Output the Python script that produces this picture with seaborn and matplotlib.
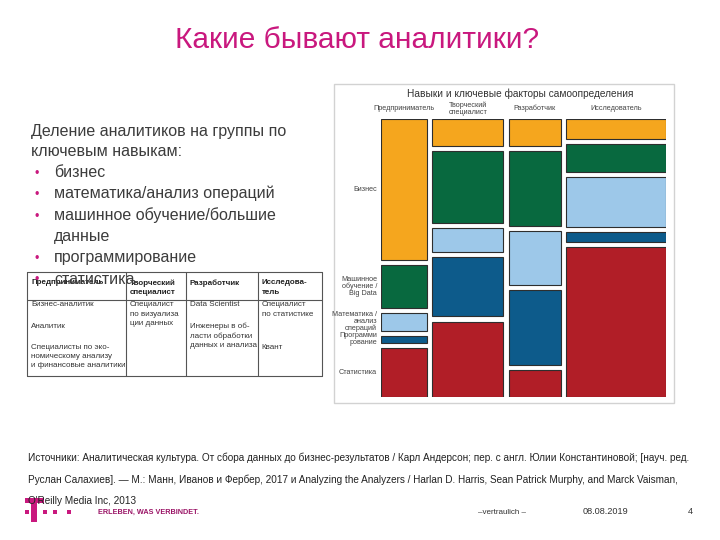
import matplotlib.pyplot as plt
from matplotlib.patches import Rectangle
import numpy as np
import seaborn as sns

# Mosaic data: share of each analyst type (column width, %) and skill mix inside each column (%)
roles = ["Предприниматель", "Творческий\nспециалист", "Разработчик", "Исследователь"]
role_share = [17.1, 26.5, 19.3, 37.1]
skills = ["Бизнес", "Машинное\nобучение /\nBig Data", "Математика /\nанализ\nопераций",
          "Программи\nрование", "Статистика"]
business = [54.6, 10.6, 10.3, 7.6]
ml_bigdata = [16.7, 27.8, 29.4, 10.9]
math_or = [7.0, 9.3, 20.7, 19.5]
programming = [2.6, 23.0, 29.1, 3.6]
statistics = [19.1, 29.2, 10.5, 58.3]
skill_colors = ["#F5A61E", "#08693F", "#9DC8E9", "#0D5B8B", "#B11E27"]

# Slide text
title = "Какие бывают аналитики?"
intro = ["Деление аналитиков на группы по", "ключевым навыкам:"]
bullets = ["бизнес", "математика/анализ операций", "машинное обучение/большие", "данные",
           "программирование", "статистика"]
bullet_marks = [True, True, True, False, True, True]
table_header = ["Предприниматель", "Творческий\nспециалист", "Разработчик", "Исследова-\nтель"]
table_cells = [
    [("Бизнес-аналитик", 0), ("Аналитик", 2),
     ("Специалисты по эко-\nномическому анализу\nи финансовые аналитики", 4)],
    [("Специалист\nпо визуализа\nции данных", 0)],
    [("Data Scientist", 0), ("Инженеры в об-\nласти обработки\nданных и анализа", 2)],
    [("Специалист\nпо статистике", 0), ("Квант", 4)],
]
sources = [
    "Источники: Аналитическая культура. От сбора данных до бизнес-результатов / Карл Андерсон; пер. с англ. Юлии Константиновой; [науч. ред.",
    "Руслан Салахиев]. — М.: Манн, Иванов и Фербер, 2017 и Analyzing the Analyzers / Harlan D. Harris, Sean Patrick Murphy, and Marck Vaisman,",
    "O'Reilly Media Inc, 2013",
]

magenta = "#C9187E"
text_gray = "#3c3c3c"

sns.set_theme(style="white")
plt.rcParams["font.family"] = ["Liberation Sans", "DejaVu Sans"]

fig = plt.figure(figsize=(7.2, 5.4), dpi=100)

# Background axes in pixel coordinates for the slide decoration
bg = fig.add_axes([0, 0, 1, 1])
bg.set_xlim(0, 720)
bg.set_ylim(540, 0)
bg.axis("off")

bg.text(357, 40, title, color=magenta, fontsize=21.5, ha="center", va="center")

# Left text block
for i, line in enumerate(intro):
    bg.text(31, 136 + 20.5 * i, line, color=text_gray, fontsize=11.5, va="baseline", zorder=5)
for i, (line, mark) in enumerate(zip(bullets, bullet_marks)):
    y = 177 + 21.3 * i
    if mark:
        bg.text(37, y, "•", color=magenta, fontsize=9, ha="center", va="baseline", zorder=5)
    bg.text(54, y, line, color=text_gray, fontsize=11.5, va="baseline", zorder=5)

# Table of role names
col_x = [27, 126, 186, 257.7, 322.3]
t_top, t_head, t_bot = 271.5, 299.5, 376
for x in col_x:
    bg.plot([x, x], [t_top, t_bot], color="#555555", lw=0.8)
for y in (t_top, t_head, t_bot):
    bg.plot([col_x[0], col_x[-1]], [y, y], color="#555555", lw=0.8)
line_h = 10.6
for j, head in enumerate(table_header):
    bg.text(col_x[j] + 4, 279.5, head, fontsize=5.8, fontweight="bold", color="#222222",
            va="top", linespacing=1.45)
for j, cells in enumerate(table_cells):
    for txt, row in cells:
        bg.text(col_x[j] + 4, 301.5 + row * line_h, txt, fontsize=5.8, color="#333333",
                va="top", linespacing=1.45)

# Chart frame and title
bg.add_patch(Rectangle((334, 84), 340, 319, fill=False, ec="#d2d2d2", lw=1))
bg.text(520, 94, "Навыки и ключевые факторы самоопределения", fontsize=7.3,
        color="#333333", ha="center", va="center")

# Mosaic chart
gap = 2.0
ax = fig.add_axes([380.7 / 720, 1 - 397 / 540, 285.3 / 720, 278 / 540])
shares = np.array(role_share)
lefts = np.concatenate([[0], np.cumsum(shares[:-1])]) + gap * np.arange(len(shares))
stack = np.array([business, ml_bigdata, math_or, programming, statistics])
tops = np.cumsum(stack, axis=0) - stack
for i, (vals, color) in enumerate(zip(stack, skill_colors)):
    bottom = tops[i] + gap * i
    ax.bar(lefts, vals, width=shares, bottom=bottom, align="edge", color=color,
           edgecolor="#2e2e2e", linewidth=0.8)
    ax.text(-1.3, bottom[0] + vals[0] / 2, skills[i], fontsize=5.2, color="#444444",
            ha="right", va="center", multialignment="right", linespacing=0.95)
for left, w, role in zip(lefts, shares, roles):
    ax.text(left + w / 2, -4.0, role, fontsize=5.2, color="#444444", ha="center",
            va="center", linespacing=0.95)
ax.set_xlim(0, shares.sum() + gap * (len(shares) - 1))
ax.set_ylim(100 + gap * (len(stack) - 1), 0)
ax.axis("off")

# Sources
for y, line in zip((458, 480, 501), sources):
    bg.text(28, y, line, fontsize=7.2, color="#222222", va="center")

# Footer
bg.add_patch(Rectangle((25, 498), 18.5, 4.5, color=magenta, lw=0))
bg.add_patch(Rectangle((30.7, 498), 6.6, 24, color=magenta, lw=0))
for x in (25, 43.3, 53.3, 66.7):
    bg.add_patch(Rectangle((x, 510), 4, 4, color=magenta, lw=0))
bg.text(98.5, 512.5, "ERLEBEN, WAS VERBINDET.", fontsize=5.2, fontweight="bold",
        color="#9A1466", va="center")
bg.text(502, 512, "–vertraulich –", fontsize=5.8, color="#333333", ha="center", va="center")
bg.text(605.5, 512, "08.08.2019", fontsize=6.6, color="#333333", ha="center", va="center")
bg.text(690, 512, "4", fontsize=6.6, color="#333333", ha="center", va="center")

fig.savefig("out.png", dpi=100)
